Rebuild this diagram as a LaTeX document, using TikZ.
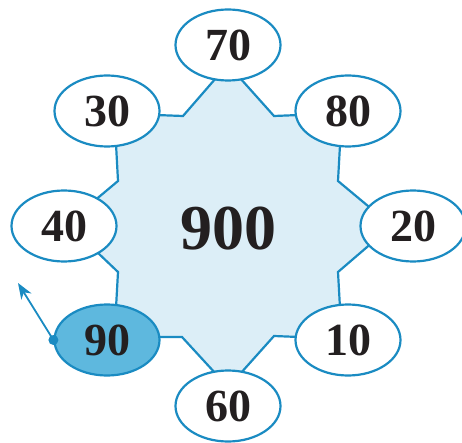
\documentclass[tikz,border=0pt]{standalone}
\usepackage{fontspec}
\setmainfont{Liberation Serif}
\usetikzlibrary{shapes.geometric,arrows.meta}
\definecolor{edge}{HTML}{1A8BC2}
\definecolor{lightfill}{HTML}{DCEEF7}
\definecolor{darkfill}{HTML}{5EB8DE}
\definecolor{ink}{HTML}{231F20}
\begin{document}
\begin{tikzpicture}[x=1pt,y=-1pt,
  numbox/.style={ellipse,draw=edge,line width=2.2pt,fill=white,minimum width=105pt,minimum height=71pt,inner sep=0pt,font=\fontsize{46}{50}\selectfont\bfseries,text=ink},
  hilite/.style={numbox,fill=darkfill},
  bigtext/.style={font=\fontsize{64}{68}\selectfont\bfseries,text=ink,inner sep=0pt},
  pointer/.style={draw=edge,line width=1.8pt,-{Stealth[length=16pt,width=12pt,inset=5pt]}}
]
\useasboundingbox (0,0) rectangle (462,443);
\filldraw[fill=lightfill,draw=edge,line width=2.2pt,line join=miter]
  (216,78) -- (183,116) -- (156,115) -- (116,144) -- (118,181) -- (97,198.6)
  -- (97,252) -- (118,272) -- (116,308) -- (156,337) -- (182,337) -- (216,374)
  -- (240,374) -- (274,336) -- (299,337) -- (340,308) -- (338,272) -- (370,244.5)
  -- (371,208.5) -- (338,181) -- (340,145) -- (299,115) -- (274,116) -- (240,78) -- cycle;
\node[numbox] (n70) at (228,45) {70};
\node[numbox] (n30) at (107,111) {30};
\node[numbox] (n80) at (348,111) {80};
\node[numbox] (n40) at (64,226) {40};
\node[numbox] (n20) at (413,226) {20};
\node[hilite] (n90) at (107,340) {90};
\node[numbox] (n10) at (348,340) {10};
\node[numbox] (n60) at (228,406) {60};
\node[bigtext] (total) at (228,229) {900};
\coordinate (tip) at (18,283);
\draw[pointer] (n90.west) -- (tip);
\fill[edge] (n90.west) circle (5pt);
\end{tikzpicture}
\end{document}
